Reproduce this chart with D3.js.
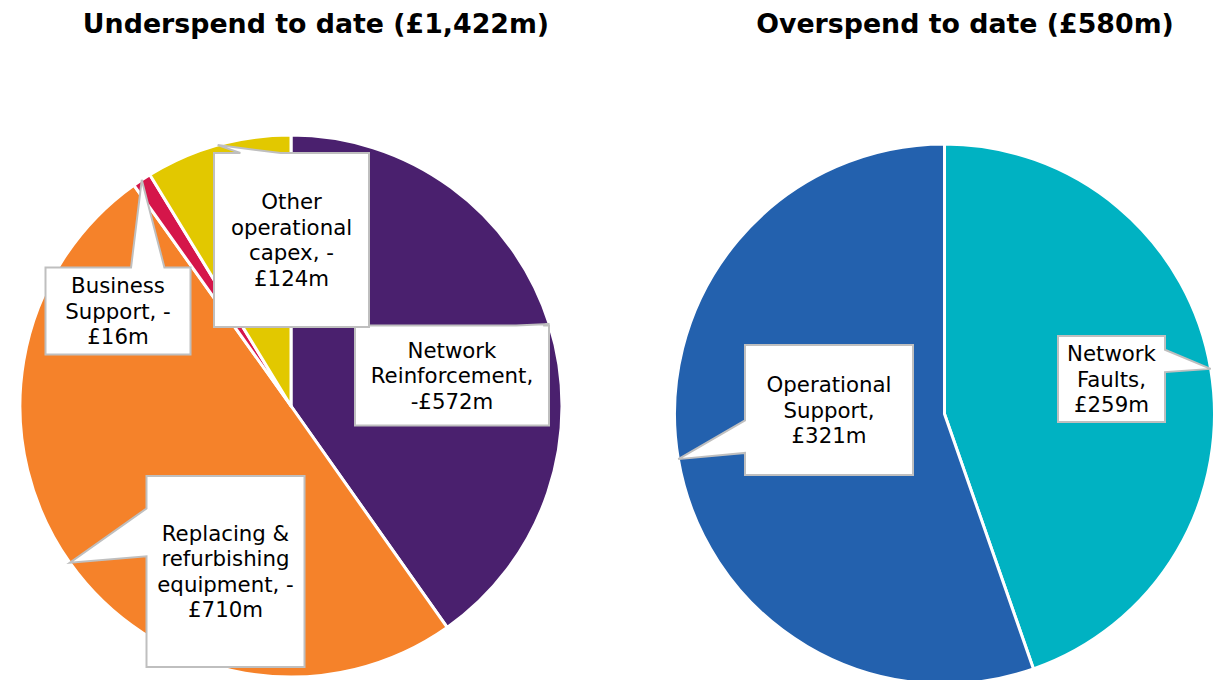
<!DOCTYPE html>
<html><head><meta charset="utf-8">
<script src="https://cdn.jsdelivr.net/npm/d3@7"></script>
<style>
html,body{margin:0;padding:0;background:#fff;}
svg{display:block;}
</style></head>
<body>
<svg id="chart" width="1216" height="680"></svg>
<script>
// ---- data ----
const underTitle = "Underspend to date (£1,422m)";
const underCategories = ["Network Reinforcement", "Replacing & refurbishing equipment", "Business Support", "Other operational capex"];
const underValues = [572, 710, 16, 124];
const underLabels = [
  ["Network", "Reinforcement,", "-£572m"],
  ["Replacing &", "refurbishing", "equipment, -", "£710m"],
  ["Business", "Support, -", "£16m"],
  ["Other", "operational", "capex, -", "£124m"]
];
const overTitle = "Overspend to date (£580m)";
const overCategories = ["Network Faults", "Operational Support"];
const overValues = [259, 321];
const overLabels = [
  ["Network", "Faults,", "£259m"],
  ["Operational", "Support,", "£321m"]
];

// ---- styles / layout ----
const underColors = ["#4a206e", "#f5822a", "#d5164a", "#e2c800"];
const overColors = ["#00b2c2", "#2361ae"];
// box layout: center offset from pie centre, size, pointer side and base fractions
const underBoxes = [
  {dx: 161, dy: -30.5, w: 194, h: 100, side: "top", f0: 0.83, f1: 0.97},
  {dx: -65.5, dy: 165.5, w: 158, h: 191, side: "left", f0: 0.17, f1: 0.42},
  {dx: -173, dy: -95, w: 145, h: 87, side: "top", f0: 0.59, f1: 0.82},
  {dx: 0.5, dy: -166, w: 155, h: 174, side: "top", f0: 0.17, f1: 0.43}
];
const overBoxes = [
  {dx: 167, dy: -35, w: 107, h: 86, side: "right", f0: 0.16, f1: 0.42},
  {dx: -115.5, dy: -4, w: 168, h: 130, side: "left", f0: 0.58, f1: 0.83}
];

const svg = d3.select("#chart");
const FONT = "'DejaVu Sans', Verdana, sans-serif";

function calloutPath(x, y, w, h, tip, side, f0, f1) {
  const p = [];
  p.push([x, y]);
  if (side === "top") { p.push([x + f0 * w, y], tip, [x + f1 * w, y]); }
  p.push([x + w, y]);
  if (side === "right") { p.push([x + w, y + f0 * h], tip, [x + w, y + f1 * h]); }
  p.push([x + w, y + h]);
  if (side === "bottom") { p.push([x + f1 * w, y + h], tip, [x + f0 * w, y + h]); }
  p.push([x, y + h]);
  if (side === "left") { p.push([x, y + f1 * h], tip, [x, y + f0 * h]); }
  return "M" + p.map(d => d[0] + "," + d[1]).join("L") + "Z";
}

function drawPie(cx, cy, r, title, titleX, cats, values, colors, labels, boxes) {
  svg.append("text")
    .attr("x", titleX).attr("y", 33)
    .attr("text-anchor", "middle")
    .style("font-family", FONT).style("font-weight", "bold").style("font-size", "26.8px")
    .attr("fill", "#000")
    .text(title);

  const data = cats.map((c, i) => ({cat: c, value: values[i], color: colors[i], label: labels[i], box: boxes[i]}));
  const pie = d3.pie().sort(null).value(d => d.value).startAngle(0).endAngle(2 * Math.PI);
  const arcs = pie(data);
  const arc = d3.arc().innerRadius(0).outerRadius(r);
  const g = svg.append("g").attr("transform", `translate(${cx},${cy})`);
  g.selectAll("path.slice").data(arcs).join("path")
    .attr("class", "slice")
    .attr("d", arc)
    .attr("fill", d => d.data.color)
    .attr("stroke", "#fff").attr("stroke-width", 3).attr("stroke-linejoin", "round");

  const lg = g.append("g");
  arcs.forEach(a => {
    const b = a.data.box;
    const mid = (a.startAngle + a.endAngle) / 2;
    const tip = [r * Math.sin(mid), -r * Math.cos(mid)];
    const x = b.dx - b.w / 2, y = b.dy - b.h / 2;
    lg.append("path")
      .attr("d", calloutPath(x, y, b.w, b.h, tip, b.side, b.f0, b.f1))
      .attr("fill", "#fff").attr("stroke", "#bfbfbf").attr("stroke-width", 2)
      .attr("stroke-linejoin", "miter");
    const lines = a.data.label;
    const lh = 25.5;
    const t = lg.append("text")
      .attr("text-anchor", "middle")
      .style("font-family", FONT).style("font-size", "21.3px")
      .attr("fill", "#000");
    lines.forEach((ln, i) => {
      t.append("tspan")
        .attr("x", b.dx)
        .attr("y", b.dy - (lines.length - 1) / 2 * lh + i * lh + 7.5)
        .text(ln);
    });
  });
}

drawPie(291, 406, 271, underTitle, 316, underCategories, underValues, underColors, underLabels, underBoxes);
drawPie(944.5, 414, 270, overTitle, 965, overCategories, overValues, overColors, overLabels, overBoxes);
</script>
</body></html>
